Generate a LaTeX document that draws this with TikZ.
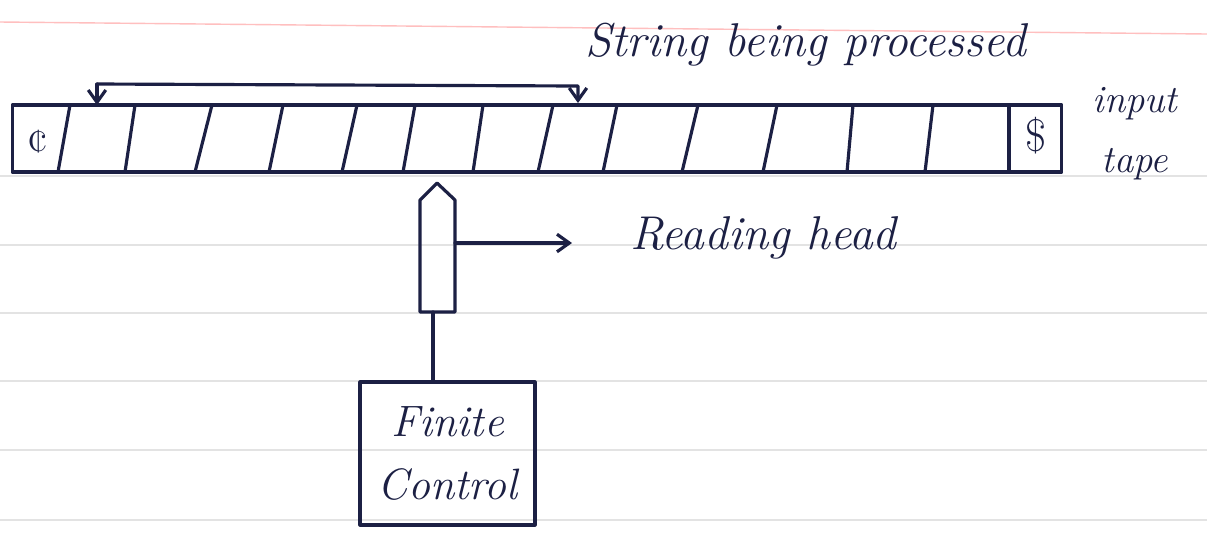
\documentclass[tikz,border=0pt]{standalone}
\usepackage{fontspec}
\usetikzlibrary{arrows.meta}
\definecolor{inkc}{RGB}{28,32,68}
\begin{document}
\begin{tikzpicture}[x=0.02cm,y=-0.02cm,
  ink/.style={draw=inkc, line width=1.8pt, line cap=round, line join=round},
  lbl/.style={text=inkc, inner sep=0pt, font=\fontsize{27}{32}\selectfont\itshape},
  sym/.style={text=inkc, inner sep=0pt, font=\fontsize{26}{30}\selectfont},
  rule/.style={draw=black!11, line width=0.6pt},
  barb/.style={-{Straight Barb[length=7pt,width=10pt]}}]
\useasboundingbox (0,0) rectangle (1207,539);
\fill[white] (0,0) rectangle (1207,539);
% ruled paper
\draw[draw=red!25, line width=0.8pt] (0,22) -- (1207,34);
\foreach \y in {176,245,313,381,450,520} \draw[rule] (0,\y) -- (1207,\y);
% tape
\node[ink, minimum width=21cm, minimum height=1.34cm, inner sep=0pt] (tape) at (537,138.5) {};
\foreach \t/\b in {70/58,135/125,212/195,283/269,357/342,415/403,483/473,553/538,617/603,698/682,777/763,853/847,933/925}
  \draw[ink] (\t,105) -- (\b,172);
\draw[ink] (1009,105) -- (1009,172);
\node[sym] (cent) at (38,142) {¢};
\node[sym] (dollar) at (1036,136) {\$};
% bracket over processed string
\coordinate (bl) at (97,105);
\coordinate (br) at (578,103);
\draw[ink, barb] (97,84) -- (bl);
\draw[ink, barb] (97,84) -- (578,86) -- (br);
\node[lbl, anchor=west] (sbp) at (585,45) {String being processed};
\node[lbl, align=center, font=\fontsize{22}{34}\selectfont\itshape] (itape) at (1135,134) {input\\tape};
% reading head
\draw[ink] (420,312) -- (420,200) -- (437,183) -- (455,200) -- (455,312) -- cycle;
\coordinate (hr) at (455,243);
\coordinate (hb) at (433,312);
\coordinate (ha) at (572,243);
\draw[ink, barb] (hr) -- (ha);
\node[lbl, anchor=west] (rh) at (630,238) {Reading head};
% finite control
\node[ink, minimum width=3.5cm, minimum height=2.86cm, align=center, text=inkc,
  font=\fontsize{25}{36}\selectfont\itshape] (fc) at (447.5,453.5) {Finite\\Control};
\draw[ink] (hb) -- (hb |- fc.north);
\end{tikzpicture}
\end{document}
